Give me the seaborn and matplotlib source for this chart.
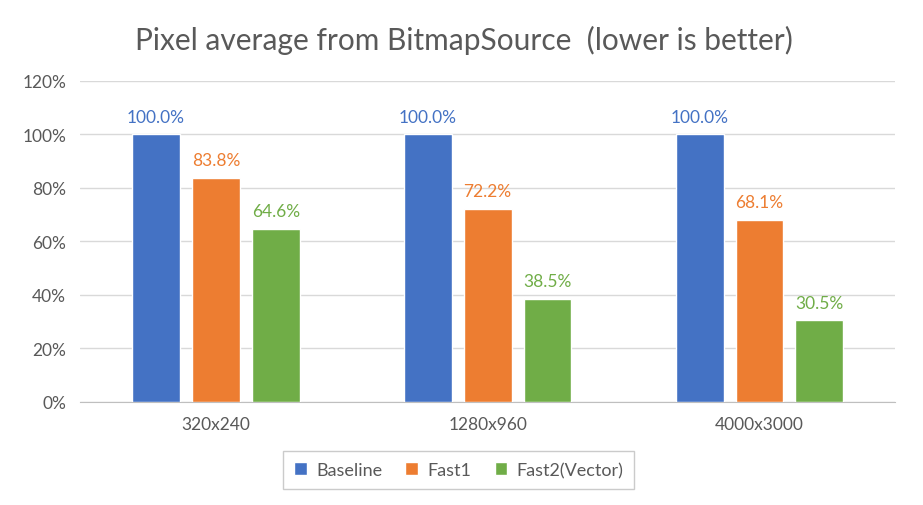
import numpy as np
import pandas as pd
import seaborn as sns
import matplotlib.pyplot as plt
from matplotlib.ticker import PercentFormatter

categories = ['320x240', '1280x960', '4000x3000']
series = ['Baseline', 'Fast1', 'Fast2(Vector)']
baseline = [100.0, 100.0, 100.0]
fast1 = [83.8, 72.2, 68.1]
fast2 = [64.6, 38.5, 30.5]
colors = ['#4472C4', '#ED7D31', '#70AD47']

df = pd.DataFrame({
    'Resolution': categories * 3,
    'Series': [s for s in series for _ in categories],
    'Value': baseline + fast1 + fast2,
})

sns.set_style('white')
plt.rcParams['font.family'] = ['Lato', 'DejaVu Sans']

fig = plt.figure(figsize=(9.23, 5.06), dpi=100)
ax = fig.add_axes([0.0867, 0.2036, 0.8833, 0.6344])

sns.barplot(data=df, x='Resolution', y='Value', hue='Series', order=categories,
            hue_order=series, palette=colors, width=0.66, gap=0.2, ax=ax,
            saturation=1, zorder=3)

for cont, col in zip(ax.containers, colors):
    ax.bar_label(cont, labels=[f'{v:.1f}%' for v in cont.datavalues],
                 padding=7, color=col, fontsize=12.5)

ax.set_ylim(0, 120)
ax.set_xlim(-0.5, 2.5)
ax.set_yticks(np.arange(0, 121, 20))
ax.yaxis.set_major_formatter(PercentFormatter(decimals=0))
ax.grid(axis='y', color='#D9D9D9', linewidth=1, zorder=0)
for side in ['left', 'right', 'top']:
    ax.spines[side].set_visible(False)
ax.spines['bottom'].set_color('#BFBFBF')
ax.tick_params(axis='both', length=0, labelsize=12.5, colors='#595959', pad=10)
ax.set_xlabel('')
ax.set_ylabel('')

fig.suptitle('Pixel average from BitmapSource  (lower is better)',
             x=0.503, y=0.948, fontsize=21.5, color='#595959')

ax.legend(loc='upper center', bbox_to_anchor=(0.4644, -0.125), ncol=3,
          frameon=True, fancybox=False, edgecolor='#BFBFBF', fontsize=13,
          handlelength=0.7, handleheight=0.7, columnspacing=1.3,
          handletextpad=0.5, labelcolor='#595959', borderpad=0.6)

fig.savefig('out.png', dpi=100)
